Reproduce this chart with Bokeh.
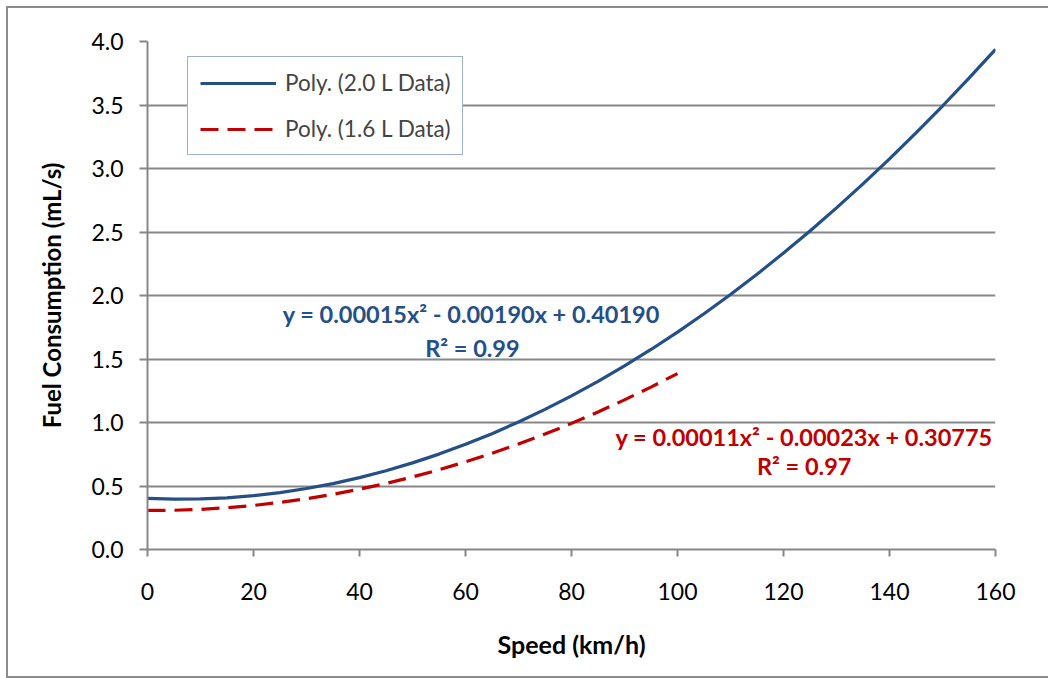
from bokeh.plotting import figure
from bokeh.models import (Range1d, FixedTicker, NumeralTickFormatter, Label,
                          Legend, LegendItem, Title, InlineStyleSheet)
from bokeh.embed import file_html
from bokeh.resources import INLINE

# ---- data ----
speed_20 = [0, 5, 10, 15, 20, 25, 30, 35, 40, 45, 50, 55, 60, 65, 70, 75, 80,
            85, 90, 95, 100, 105, 110, 115, 120, 125, 130, 135, 140, 145, 150,
            155, 160]
fuel_20 = [0.402, 0.396, 0.398, 0.407, 0.424, 0.448, 0.480, 0.519, 0.566,
           0.620, 0.682, 0.751, 0.828, 0.912, 1.004, 1.103, 1.210, 1.324,
           1.446, 1.575, 1.712, 1.856, 2.008, 2.167, 2.334, 2.508, 2.690,
           2.879, 3.076, 3.280, 3.492, 3.711, 3.938]
speed_16 = [0, 5, 10, 15, 20, 25, 30, 35, 40, 45, 50, 55, 60, 65, 70, 75, 80,
            85, 90, 95, 100]
fuel_16 = [0.308, 0.309, 0.316, 0.329, 0.347, 0.371, 0.400, 0.434, 0.475,
           0.520, 0.571, 0.628, 0.690, 0.758, 0.831, 0.909, 0.993, 1.083,
           1.178, 1.279, 1.385]
x_ticks = [0, 20, 40, 60, 80, 100, 120, 140, 160]
y_ticks = [0.0, 0.5, 1.0, 1.5, 2.0, 2.5, 3.0, 3.5, 4.0]
series_names = ["Poly. (2.0 L Data)", "Poly. (1.6 L Data)"]
eq_20 = ["y = 0.00015x\u00b2 - 0.00190x + 0.40190", "R\u00b2 = 0.99"]
eq_16 = ["y = 0.00011x\u00b2 - 0.00023x + 0.30775", "R\u00b2 = 0.97"]
x_title = "Speed (km/h)"
y_title = "Fuel Consumption (mL/s)"

FONT = "Lato"
BLUE = "#254f87"
RED = "#c00000"
GRID = "#878787"
FRAME = "#8c8c8c"

p = figure(frame_width=848, frame_height=508,
           min_border_left=147, min_border_right=53,
           min_border_top=41, min_border_bottom=129,
           x_range=Range1d(0, 160), y_range=Range1d(0, 4.0),
           output_backend="svg", toolbar_location=None,
           background_fill_color="white", border_fill_color=None)
p.outline_line_color = None

# outer chart border (left, top, bottom edges) drawn behind the canvas
g = f"linear-gradient({FRAME},{FRAME})"
p.stylesheets = [InlineStyleSheet(css=(
    ":host { background: "
    f"{g} 6px 6px / 2px 672px no-repeat, "
    f"{g} 6px 6px / 1042px 2px no-repeat, "
    f"{g} 6px 676px / 1042px 2px no-repeat, white; }}"))]

# axes
for ax in (p.xaxis, p.yaxis):
    ax.axis_line_color = GRID
    ax.axis_line_width = 2
    ax.major_tick_line_color = GRID
    ax.major_tick_line_width = 2
    ax.minor_tick_line_color = None
    ax.major_tick_in = 0
    ax.major_label_text_font = FONT
    ax.major_label_text_font_size = "23px"
    ax.major_label_text_color = "black"
    ax.axis_label_text_font = FONT
    ax.axis_label_text_font_style = "bold"
    ax.axis_label_text_font_size = "24px"
    ax.axis_label_text_color = "black"
p.xaxis.ticker = FixedTicker(ticks=x_ticks)
p.yaxis.ticker = FixedTicker(ticks=y_ticks)
p.yaxis.formatter = NumeralTickFormatter(format="0.0")
p.xaxis.major_tick_out = 7
p.yaxis.major_tick_out = 8
p.xaxis.major_label_standoff = 26
p.yaxis.major_label_standoff = 16
p.yaxis.axis_label = y_title
p.yaxis.axis_label_standoff = 22

p.add_layout(Title(text=x_title, align="center", offset=-25, standoff=48,
                   text_font=FONT, text_font_style="bold",
                   text_font_size="25px", text_color="black"), "below")

p.xgrid.grid_line_color = None
p.ygrid.ticker = FixedTicker(ticks=y_ticks)
p.ygrid.grid_line_color = GRID
p.ygrid.grid_line_width = 2

# curves
r20 = p.line(speed_20, fuel_20, line_color=BLUE, line_width=3.2)
r16 = p.line(speed_16, fuel_16, line_color=RED, line_width=3.2,
             line_dash="18 9")

legend = Legend(items=[LegendItem(label=series_names[0], renderers=[r20]),
                       LegendItem(label=series_names[1], renderers=[r16])],
                location=(40, 394), margin=0, padding=12, spacing=19,
                glyph_width=76, glyph_height=20, label_height=20,
                label_standoff=9,
                label_text_font=FONT, label_text_font_size="22.5px",
                border_line_color="#3d659b", border_line_width=1.5,
                background_fill_color="white", background_fill_alpha=1)
p.add_layout(legend, "center")

# equations
def lab(x, y, t, c):
    p.add_layout(Label(x=x, y=y, text=t, text_align="center",
                       text_baseline="middle", text_font=FONT,
                       text_font_style="bold", text_font_size="23.5px",
                       text_color=c))

lab(61.1, 1.858, eq_20[0], BLUE)
lab(61.3, 1.59, eq_20[1], BLUE)
lab(123.9, 0.882, eq_16[0], RED)
lab(123.9, 0.654, eq_16[1], RED)

open("out.html", "w").write(file_html(p, INLINE))
